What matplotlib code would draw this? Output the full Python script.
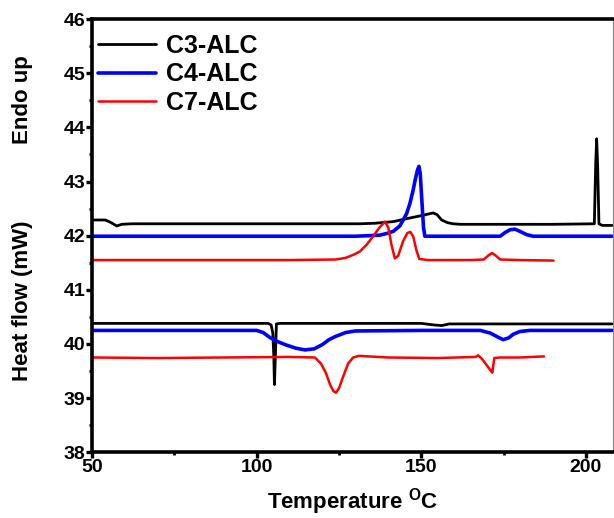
import matplotlib
matplotlib.use("Agg")
import matplotlib.pyplot as plt
from matplotlib.ticker import MultipleLocator

plt.rcParams['font.family'] = ['Liberation Sans', 'DejaVu Sans']
plt.rcParams['font.weight'] = 'bold'
plt.rcParams['mathtext.fontset'] = 'custom'
plt.rcParams['mathtext.rm'] = 'Liberation Sans:bold'
plt.rcParams['mathtext.bf'] = 'Liberation Sans:bold'

# DSC traces: heating (upper) and cooling (lower) runs
c3_heat_T = [50, 54, 55.5, 57.5, 59, 62, 80, 100, 120, 131.4, 136, 141.5, 146, 150, 153.6,
             154.8, 156.2, 158, 159.7, 162, 170, 190, 202.6, 203.0, 203.3, 203.6, 204.0, 205, 208]
c3_heat_Q = [42.29, 42.29, 42.25, 42.18, 42.21, 42.22, 42.22, 42.22, 42.22, 42.22, 42.23, 42.26,
             42.32, 42.37, 42.42, 42.39, 42.29, 42.24, 42.22, 42.21, 42.21, 42.21, 42.22, 43.3,
             43.79, 43.3, 42.22, 42.19, 42.19]

c4_heat_T = [50, 80, 110, 130, 134, 137.4, 139.5, 141.5, 143.5, 145.5, 146.5, 147.5, 148.3,
             148.9, 149.3, 149.7, 150.2, 150.7, 151.1, 152, 165, 174, 175.5, 177, 178.5, 180, 182,
             184, 195, 208]
c4_heat_Q = [41.99, 41.99, 41.99, 41.99, 42.0, 42.01, 42.04, 42.08, 42.18, 42.4, 42.58, 42.83,
             43.07, 43.22, 43.28, 43.15, 42.64, 42.15, 41.99, 41.99, 41.99, 41.99, 42.06, 42.11,
             42.12, 42.08, 42.02, 41.99, 41.99, 41.99]

c7_heat_T = [50, 80, 110, 124, 127, 129.5, 131.4, 133.5, 135.4, 137.3, 139.0, 140.0, 141.0, 142,
             143, 144.5, 145.8, 146.7, 147.6, 148.5, 149.4, 152, 165, 169, 170.5, 171.5, 172.5,
             174, 180, 190.2]
c7_heat_Q = [41.55, 41.55, 41.55, 41.56, 41.59, 41.65, 41.71, 41.84, 41.99, 42.15, 42.26, 42.15,
             41.82, 41.58, 41.63, 41.9, 42.05, 42.07, 41.98, 41.74, 41.57, 41.55, 41.55, 41.56,
             41.64, 41.68, 41.64, 41.56, 41.55, 41.54]

c3_cool_T = [50, 70, 90, 103.5, 104.4, 104.9, 105.2, 105.4, 105.7, 106.0, 107, 130, 150, 154,
             156.3, 158.5, 162, 185, 208]
c3_cool_Q = [40.38, 40.38, 40.38, 40.38, 40.35, 40.2, 39.8, 39.25, 39.8, 40.37, 40.38, 40.38,
             40.38, 40.35, 40.34, 40.37, 40.37, 40.37, 40.37]

c4_cool_T = [50, 80, 100, 102, 104, 106.5, 109, 112, 114.7, 117.5, 120, 122, 124, 125.3, 127,
             130, 150, 168, 171, 173.5, 174.9, 176.5, 178, 180, 183, 208]
c4_cool_Q = [40.25, 40.25, 40.25, 40.21, 40.12, 40.04, 39.98, 39.92, 39.89, 39.91, 39.99, 40.08,
             40.14, 40.17, 40.21, 40.24, 40.25, 40.25, 40.2, 40.12, 40.08, 40.11, 40.18, 40.23,
             40.25, 40.25]

c7_cool_T = [50, 70, 90, 110, 117.7, 119.5, 121, 122.3, 123.3, 124.1, 125.0, 126.3, 127.8, 129.3,
             131, 140, 155, 166.5, 167.3, 168.5, 170, 171.2, 171.6, 172.2, 174, 180, 187.3]
c7_cool_Q = [39.75, 39.74, 39.75, 39.76, 39.75, 39.64, 39.47, 39.25, 39.13, 39.1, 39.18, 39.4,
             39.64, 39.75, 39.78, 39.75, 39.74, 39.76, 39.79, 39.72, 39.6, 39.5, 39.47, 39.74,
             39.75, 39.75, 39.77]

series_labels = ['C3-ALC', 'C4-ALC', 'C7-ALC']
series_colors = ['black', '#0000ff', '#ff0000']
series_widths = [2.0, 2.6, 1.8]

fig = plt.figure(figsize=(6.14, 5.18), dpi=100)
ax = fig.add_axes([0.150, 0.127, 0.848, 0.836])

heat = [(c3_heat_T, c3_heat_Q), (c4_heat_T, c4_heat_Q), (c7_heat_T, c7_heat_Q)]
cool = [(c3_cool_T, c3_cool_Q), (c4_cool_T, c4_cool_Q), (c7_cool_T, c7_cool_Q)]

for (th, qh), (tc, qc), lab, col, lw in zip(heat, cool, series_labels, series_colors, series_widths):
    ax.plot(th, qh, color=col, lw=lw, label=lab, solid_joinstyle='round', solid_capstyle='round')
    ax.plot(tc, qc, color=col, lw=lw, solid_joinstyle='round', solid_capstyle='round')

ax.set_xlim(50, 208.2)
ax.set_ylim(38, 46)
ax.xaxis.set_major_locator(MultipleLocator(50))
ax.xaxis.set_minor_locator(MultipleLocator(25))
ax.yaxis.set_major_locator(MultipleLocator(1))
ax.yaxis.set_minor_locator(MultipleLocator(0.5))

for side in ['left', 'top', 'bottom']:
    ax.spines[side].set_linewidth(2.6)
ax.spines['right'].set_linewidth(0.8)
ax.spines['right'].set_color('#888888')

ax.tick_params(which='major', direction='out', length=4, width=2.4, labelsize=14, pad=1)
ax.tick_params(which='minor', direction='out', length=2.5, width=2.0)
ax.tick_params(top=False, right=False, which='both')
for lbl in ax.get_xticklabels() + ax.get_yticklabels():
    lbl.set_fontweight('bold')

ax.set_xlabel(r'Temperature $^{\mathrm{O}}$C', fontsize=16, fontweight='bold', labelpad=7)

fig.text(0.036, 0.42, 'Heat flow (mW)', rotation=90, ha='center', va='center',
         fontsize=16, fontweight='bold')
fig.text(0.036, 0.807, 'Endo up', rotation=90, ha='center', va='center',
         fontsize=16, fontweight='bold')

leg = ax.legend(loc='upper left', bbox_to_anchor=(0.0115, 0.966), frameon=False,
                fontsize=18, handlelength=2.3, handletextpad=0.4, labelspacing=0.18,
                borderpad=0, borderaxespad=0)
for t in leg.get_texts():
    t.set_fontweight('bold')

fig.savefig('out.png', dpi=100)
